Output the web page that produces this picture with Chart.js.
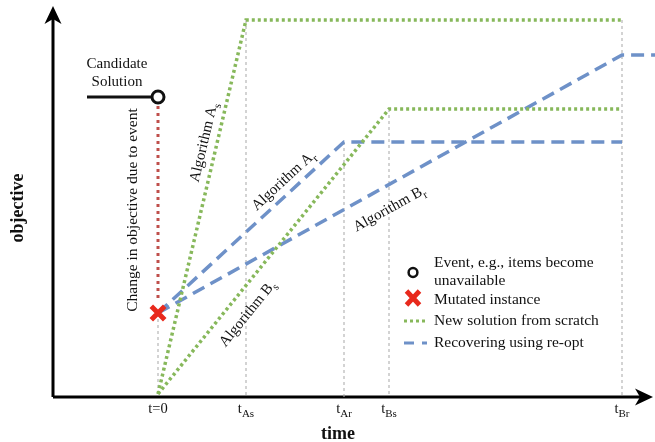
<!DOCTYPE html>
<html><head><meta charset="utf-8">
<script src="https://cdn.jsdelivr.net/npm/chart.js@4.4.1/dist/chart.umd.min.js"></script>
<style>html,body{margin:0;padding:0;background:#fff;}#wrap{width:655px;height:442px;}</style>
</head><body><div id="wrap"><canvas id="c" width="655" height="442"></canvas></div>
<script>
// ---- data (time in arbitrary units, objective in arbitrary units) ----
const tickTimes = [0, 8.8, 18.6, 23.1, 46.4];
const tickBase  = ['t=0', 't', 't', 't', 't'];
const tickSub   = ['', 'As', 'Ar', 'Bs', 'Br'];

const timeAs = [0, 8.8, 46.4];   const objAs = [0.3, 37.7, 37.7];
const timeBs = [0, 23.1, 46.4];  const objBs = [0.3, 28.8, 28.8];
const timeAr = [0, 18.6, 46.4];  const objAr = [8.4, 25.5, 25.5];
const timeBr = [0, 46.4, 49.7];  const objBr = [8.4, 34.2, 34.2];

const candidateTime = [-7.1, -0.5]; const candidateObj = [30.0, 30.0];
const eventTime = [0];   const eventObj = [30.0];
const mutatedTime = [0]; const mutatedObj = [8.4];
const changeTime = [0, 0]; const changeObj = [29.1, 9.6];

const dropTimes = [0, 8.8, 18.6, 23.1, 46.4];
const dropTops  = [8.4, 37.7, 25.5, 28.8, 37.7];

const algBase = ['Algorithm A', 'Algorithm A', 'Algorithm B', 'Algorithm B'];
const algSub  = ['s', 'r', 'r', 's'];
const algTime = [4.5, 12.5, 23.1, 8.9];
const algObj  = [25.5, 21.7, 18.9, 8.4];

const legendLabels = [['Event, e.g., items become', 'unavailable'], ['Mutated instance'], ['New solution from scratch'], ['Recovering using re-opt']];
const candidateLabel = ['Candidate', 'Solution'];
const changeLabel = 'Change in objective due to event';
const xTitle = 'time', yTitle = 'objective';

// ---- styles ----
const GREEN = '#87b85b', BLUE = '#6e91c8', RED = '#e8291c', DOTRED = '#bf4f4b', GRAY = '#a8a8a8';
const SERIF = "'Liberation Serif','Times New Roman',serif";

const pts = (xs, ys) => xs.map((x, i) => ({x, y: ys[i]}));
const datasets = [];
datasets.push({data: pts(eventTime, eventObj), showLine:false, pointStyle:'circle', pointRadius:6, pointBorderWidth:3, pointBorderColor:'#111', pointBackgroundColor:'#fff', order:0});
datasets.push({data: pts(mutatedTime, mutatedObj), showLine:false, pointStyle:'crossRot', pointRadius:9.5, pointBorderWidth:5, pointBorderColor:RED, order:0});
datasets.push({data: pts(changeTime, changeObj), borderColor:DOTRED, borderWidth:3, borderDash:[3,4], pointRadius:0, order:2});
datasets.push({data: pts(candidateTime, candidateObj), borderColor:'#111', borderWidth:3, pointRadius:0, order:2});
const lineDefs = [[timeAs,objAs,GREEN,[3,3]],[timeBs,objBs,GREEN,[3,3]],[timeAr,objAr,BLUE,[13,7]],[timeBr,objBr,BLUE,[13,7]]];
lineDefs.forEach(([xs,ys,c,d]) => datasets.push({data: pts(xs,ys), borderColor:c, borderWidth:3.5, borderDash:d, borderCapStyle:'butt', pointRadius:0, order:3}));
dropTimes.forEach((t,i) => datasets.push({data: [{x:t,y:dropTops[i]},{x:t,y:0}], borderColor:GRAY, borderWidth:1, borderDash:[3,3], pointRadius:0, order:10}));

function arrow(ctx, tx, ty, dir) {
  ctx.save(); ctx.translate(tx, ty); ctx.rotate(dir);
  ctx.beginPath(); ctx.moveTo(0,0); ctx.lineTo(-18,-8.5); ctx.lineTo(-13,0); ctx.lineTo(-18,8.5); ctx.closePath();
  ctx.fillStyle = '#000'; ctx.fill(); ctx.restore();
}
function subText(ctx, base, sub, x, y, size, subSize, align) {
  ctx.font = size + 'px ' + SERIF;
  const wb = ctx.measureText(base).width;
  ctx.font = subSize + 'px ' + SERIF;
  const ws = sub ? ctx.measureText(sub).width : 0;
  let sx = align === 'center' ? x - (wb+ws)/2 : x;
  ctx.textAlign = 'left'; ctx.textBaseline = 'alphabetic';
  ctx.font = size + 'px ' + SERIF; ctx.fillText(base, sx, y);
  if (sub) { ctx.font = subSize + 'px ' + SERIF; ctx.fillText(sub, sx + wb, y + size*0.28); }
}

const decor = {
  id: 'decor',
  beforeDatasetsDraw(chart) {
    const ctx = chart.ctx, ys = chart.scales.y;
    const y0 = ys.getPixelForValue(0);
    ctx.save();
    ctx.strokeStyle = '#000'; ctx.lineWidth = 3;
    ctx.beginPath(); ctx.moveTo(53, y0); ctx.lineTo(53, 14); ctx.stroke();
    ctx.beginPath(); ctx.moveTo(53, y0); ctx.lineTo(645, y0); ctx.stroke();
    arrow(ctx, 53, 6, -Math.PI/2);
    arrow(ctx, 653, y0, 0);
    ctx.restore();
  },
  afterDatasetsDraw(chart) {
    const ctx = chart.ctx, xs = chart.scales.x, ys = chart.scales.y;
    const y0 = ys.getPixelForValue(0);
    ctx.save(); ctx.fillStyle = '#111';
    tickTimes.forEach((t,i) => {
      const px = xs.getPixelForValue(t);
      subText(ctx, tickBase[i], tickSub[i], px, y0 + 16, 14.5, 11, 'center');
    });
    ctx.font = 'bold 18px ' + SERIF; ctx.textAlign = 'center'; ctx.textBaseline = 'middle';
    ctx.fillText(xTitle, 338, 434);
    ctx.save(); ctx.translate(18, 208); ctx.rotate(-Math.PI/2); ctx.fillText(yTitle, 0, 0); ctx.restore();
    ctx.font = '15px ' + SERIF;
    const cx = (xs.getPixelForValue(candidateTime[0]) + xs.getPixelForValue(candidateTime[1]))/2 - 3;
    const cy = ys.getPixelForValue(candidateObj[0]);
    ctx.fillText(candidateLabel[0], cx, cy - 33);
    ctx.fillText(candidateLabel[1], cx, cy - 15);
    ctx.save(); ctx.translate(xs.getPixelForValue(0) - 25, 210); ctx.rotate(-Math.PI/2);
    ctx.font = '15.5px ' + SERIF; ctx.fillText(changeLabel, 0, 0); ctx.restore();
    const segs = [[timeAs,objAs],[timeAr,objAr],[timeBr,objBr],[timeBs,objBs]];
    segs.forEach(([tx,oy],i) => {
      const ax = xs.getPixelForValue(tx[0]), ay = ys.getPixelForValue(oy[0]);
      const bx = xs.getPixelForValue(tx[1]), by = ys.getPixelForValue(oy[1]);
      const ang = Math.atan2(by-ay, bx-ax);
      ctx.save(); ctx.translate(xs.getPixelForValue(algTime[i]), ys.getPixelForValue(algObj[i])); ctx.rotate(ang);
      subText(ctx, algBase[i], algSub[i], 0, 5, 15, 11, 'center');
      ctx.restore();
    });
    const lx = 413, tx = 434;
    ctx.font = '15.5px ' + SERIF; ctx.textAlign = 'left'; ctx.textBaseline = 'middle'; ctx.fillStyle = '#111';
    const rows = [[263,281], [300], [321], [343]];
    legendLabels.forEach((lines,i) => lines.forEach((s,j) => ctx.fillText(s, tx, rows[i][j])));
    ctx.lineWidth = 2.5; ctx.strokeStyle = '#111';
    ctx.beginPath(); ctx.arc(lx, 272.5, 4.4, 0, Math.PI*2); ctx.stroke();
    ctx.strokeStyle = RED; ctx.lineWidth = 4.8;
    ctx.beginPath(); ctx.moveTo(lx-6.5, 291); ctx.lineTo(lx+6.5, 305); ctx.moveTo(lx+6.5, 291); ctx.lineTo(lx-6.5, 305); ctx.stroke();
    ctx.strokeStyle = GREEN; ctx.lineWidth = 3; ctx.setLineDash([3,3]);
    ctx.beginPath(); ctx.moveTo(404, 321); ctx.lineTo(428, 321); ctx.stroke();
    ctx.strokeStyle = BLUE; ctx.setLineDash([10,8]);
    ctx.beginPath(); ctx.moveTo(404, 343); ctx.lineTo(427, 343); ctx.stroke();
    ctx.restore();
  }
};

new Chart(document.getElementById('c'), {
  type: 'scatter',
  data: { datasets },
  options: {
    responsive: false, animation: false, devicePixelRatio: 1,
    layout: { autoPadding: false, padding: { left: 53, right: 0, top: 7, bottom: 45 } },
    scales: {
      x: { type: 'linear', min: -10.5, max: 49.7, display: false },
      y: { type: 'linear', min: 0, max: 39, display: false }
    },
    elements: { line: { tension: 0, fill: false } },
    datasets: { scatter: { showLine: true } },
    plugins: { legend: { display: false }, tooltip: { enabled: false } }
  },
  plugins: [decor]
});
</script></body></html>
